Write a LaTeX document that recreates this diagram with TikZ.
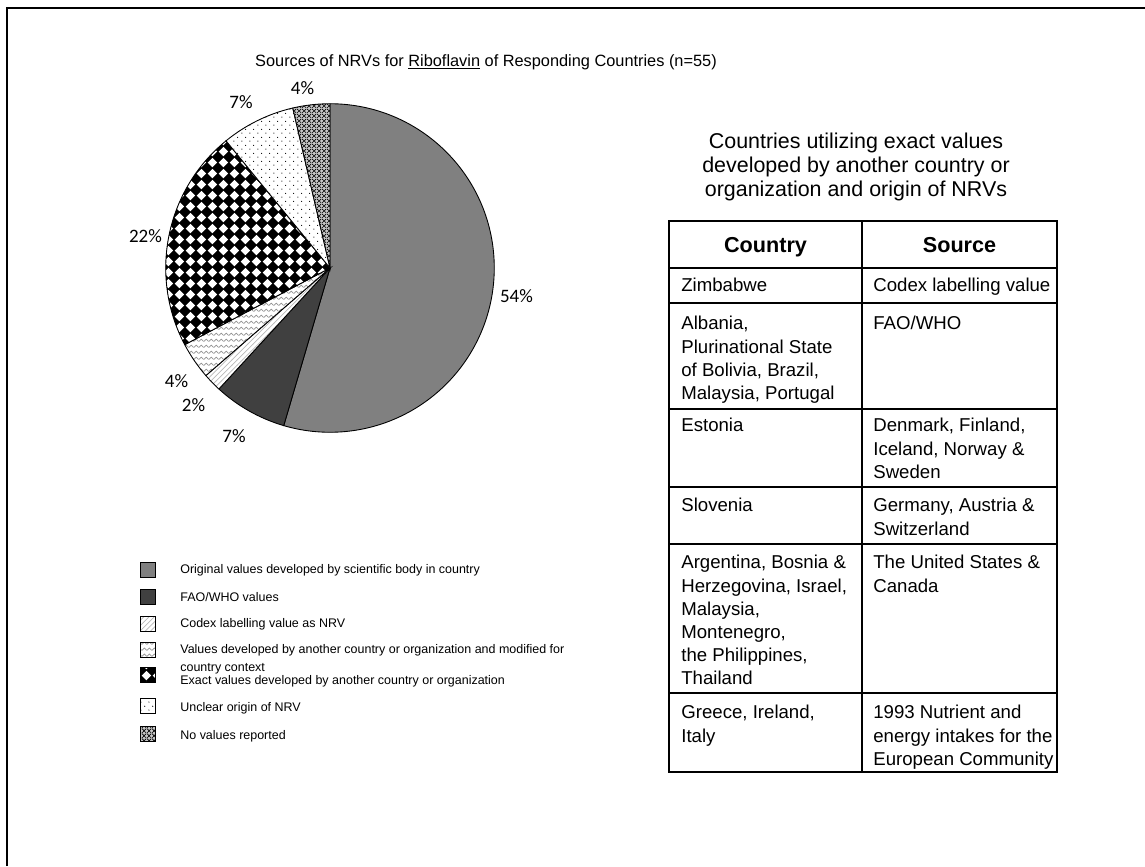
\documentclass[tikz,border=0pt]{standalone}
\usepackage{fontspec}
\setmainfont{Liberation Sans}
\newfontfamily\pctfont{Carlito}
\usetikzlibrary{patterns,patterns.meta}

\definecolor{origgray}{RGB}{128,128,128}
\definecolor{faogray}{RGB}{64,64,64}

% Fill patterns of the slices
\tikzdeclarepattern{name=diamondgrid, type=uncolored,
	bounding box={(0pt,0pt) and (6.2pt,6.2pt)}, tile size={(6.2pt,6.2pt)},
	code={\fill (3.1pt,0.4pt) -- (5.8pt,3.1pt) -- (3.1pt,5.8pt) -- (0.4pt,3.1pt) -- cycle;}}
\tikzdeclarepattern{name=wavy, type=uncolored,
	bounding box={(0pt,0pt) and (3pt,3.6pt)}, tile size={(3pt,3.6pt)},
	code={\draw[line width=0.45pt] (0pt,1pt) -- (1.5pt,2.4pt) -- (3pt,1pt);}}
\tikzdeclarepattern{name=sparsedots, type=uncolored,
	bounding box={(0pt,0pt) and (4.4pt,4.4pt)}, tile size={(4.4pt,4.4pt)},
	code={\fill (1.1pt,1.1pt) circle[radius=0.35pt] (3.3pt,3.3pt) circle[radius=0.35pt];}}
\tikzdeclarepattern{name=diagcross, type=uncolored,
	bounding box={(0pt,0pt) and (2.6pt,2.6pt)}, tile size={(2.6pt,2.6pt)},
	code={\draw[line width=0.4pt] (0pt,0pt) -- (2.6pt,2.6pt) (0pt,2.6pt) -- (2.6pt,0pt);}}

\tikzset{
	slice/.style={draw=black, line width=0.5pt},
	origslice/.style={slice, fill=origgray},
	faoslice/.style={slice, fill=faogray},
	codexslice/.style={slice, preaction={fill=white}, pattern=north east lines, pattern color=gray!55},
	modslice/.style={slice, preaction={fill=white}, pattern=wavy, pattern color=gray!85},
	exactslice/.style={slice, preaction={fill=black}, pattern=diamondgrid, pattern color=white},
	unclearslice/.style={slice, preaction={fill=white}, pattern=sparsedots, pattern color=black},
	noneslice/.style={slice, preaction={fill=gray!45}, pattern=diagcross, pattern color=black},
	pctlabel/.style={font=\pctfont\fontsize{10.8}{12}\selectfont, inner sep=0pt},
	legendbox/.style={minimum width=8.5pt, minimum height=8.5pt, inner sep=0pt},
	legendtext/.style={font=\fontsize{7.1}{10}\selectfont, align=left, anchor=west, inner sep=0pt},
	tableline/.style={line width=0.9pt},
	cell/.style={font=\fontsize{10.6}{13.2}\selectfont, align=left, anchor=north west, inner sep=0pt},
	headcell/.style={font=\fontsize{12.3}{14}\selectfont\bfseries, anchor=base, inner sep=0pt}
}

\begin{document}
\begin{tikzpicture}[x=0.02cm, y=-0.02cm]
	\useasboundingbox (0,0) rectangle (1145,866);
	\draw[line width=0.85pt] (7,866) -- (7,8) -- (1145,8);

	% Title
	\node[font=\fontsize{9.3}{11}\selectfont] (title) at (486,62) {Sources of NRVs for \underline{Riboflavin} of Responding Countries (n=55)};

	% Pie slices (counts out of 55), radius 165px = 93.5pt
	\coordinate (pie) at (330,268);
	\foreach \a/\b/\s in {0/30/origslice, 30/34/faoslice, 34/35/codexslice, 35/37/modslice, 37/49/exactslice, 49/53/unclearslice, 53/55/noneslice} {
		\draw[\s] (pie) -- ++({90-\a/55*360}:93.5pt) arc[start angle={90-\a/55*360}, end angle={90-\b/55*360}, radius=93.5pt] -- cycle;
	}

	% Percentages
	\node[pctlabel] (p54) at (516.5,296) {54\%};
	\node[pctlabel] (p7a) at (234,436) {7\%};
	\node[pctlabel] (p2) at (193.5,405) {2\%};
	\node[pctlabel] (p4a) at (176.5,381) {4\%};
	\node[pctlabel] (p22) at (145.5,236) {22\%};
	\node[pctlabel] (p7b) at (241,102) {7\%};
	\node[pctlabel] (p4b) at (302.5,88) {4\%};

	% Legend
	\foreach \by/\ty/\s/\t [count=\i] in {570/570/origslice/Original values developed by scientific body in country,
		597/597/faoslice/{FAO/WHO values},
		624/624/codexslice/Codex labelling value as NRV,
		650/659/modslice/{Values developed by another country or organization and modified for\\country context},
		675/681/exactslice/Exact values developed by another country or organization,
		706/708/unclearslice/Unclear origin of NRV,
		734/736/noneslice/No values reported} {
		\node[legendbox, \s] (box\i) at (148,\by) {};
		\node[legendtext] (leg\i) at (180,\ty) {\t};
	}

	% Table caption
	\node[font=\fontsize{12.2}{13.9}\selectfont, align=center] (caption) at (856,167) {Countries utilizing exact values\\developed by another country or\\organization and origin of NRVs};

	% Table grid
	\draw[tableline] (669,221) rectangle (1057,772);
	\draw[tableline] (862,221) -- (862,772);
	\foreach \y in {268,303,409,487,544,693} {
		\draw[tableline] (669,\y) -- (1057,\y);
	}

	% Table text
	\node[headcell] (hcountry) at (765.5,252) {Country};
	\node[headcell] (hsource) at (959.5,252) {Source};
	\foreach \y/\c/\s [count=\i] in {278/Zimbabwe/Codex labelling value,
		316/{Albania,\\Plurinational State\\of Bolivia, Brazil,\\Malaysia, Portugal}/{FAO/WHO},
		418/Estonia/{Denmark, Finland,\\Iceland, Norway \&\\Sweden},
		498/Slovenia/{Germany, Austria \&\\Switzerland},
		555/{Argentina, Bosnia \&\\Herzegovina, Israel,\\Malaysia,\\Montenegro,\\the Philippines,\\Thailand}/{The United States \&\\Canada},
		705/{Greece, Ireland,\\Italy}/{1993 Nutrient and\\energy intakes for the\\European Community}} {
		\node[cell] (country\i) at (681,\y) {\c};
		\node[cell] (source\i) at (873,\y) {\s};
	}
\end{tikzpicture}
\end{document}
